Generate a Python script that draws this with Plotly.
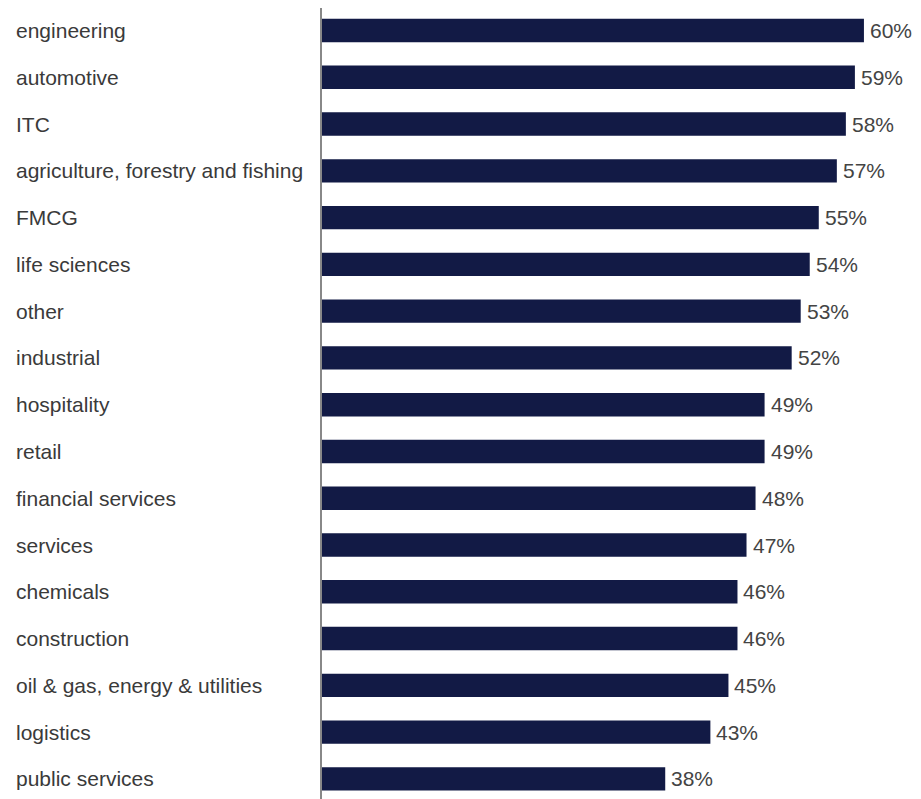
import plotly.graph_objects as go

categories = ["engineering", "automotive", "ITC", "agriculture, forestry and fishing", "FMCG",
              "life sciences", "other", "industrial", "hospitality", "retail", "financial services",
              "services", "chemicals", "construction", "oil & gas, energy & utilities", "logistics",
              "public services"]
values = [60, 59, 58, 57, 55, 54, 53, 52, 49, 49, 48, 47, 46, 46, 45, 43, 38]
value_labels = [f"{v}%" for v in values]

W, H = 913, 791
ML, MR, MT, MB = 314, 39, 0, 0
FONT = "Liberation Sans, Arial, sans-serif"
FS = 21

fig = go.Figure(go.Bar(
    x=values, y=categories, orientation="h",
    marker=dict(color="#121a45", line=dict(width=0)),
    width=0.5, hoverinfo="x+y",
))

pw = W - ML - MR
for c in categories:
    fig.add_annotation(x=(6 - ML) / pw, xref="paper", y=c, yref="y",
                       text=c, showarrow=False, xanchor="left", yanchor="middle",
                       font=dict(family=FONT, size=FS, color="#3a3a3a"))
for c, v, t in zip(categories, values, value_labels):
    fig.add_annotation(x=v, xref="x", y=c, yref="y", text=t, showarrow=False,
                       xanchor="left", yanchor="middle", xshift=4,
                       font=dict(family=FONT, size=FS, color="#444444"))

fig.update_layout(
    width=W, height=H, margin=dict(l=ML, r=MR, t=MT, b=MB),
    paper_bgcolor="white", plot_bgcolor="white", showlegend=False,
    bargap=0.5,
    xaxis=dict(range=[0, 62], visible=False),
    yaxis=dict(type="category", categoryorder="array", categoryarray=categories,
               range=[16.43, -0.481], showticklabels=False, showgrid=False,
               zeroline=False, showline=True, linecolor="#888888", linewidth=1.5,
               ticks=""),
)
fig.write_html("out.html")
